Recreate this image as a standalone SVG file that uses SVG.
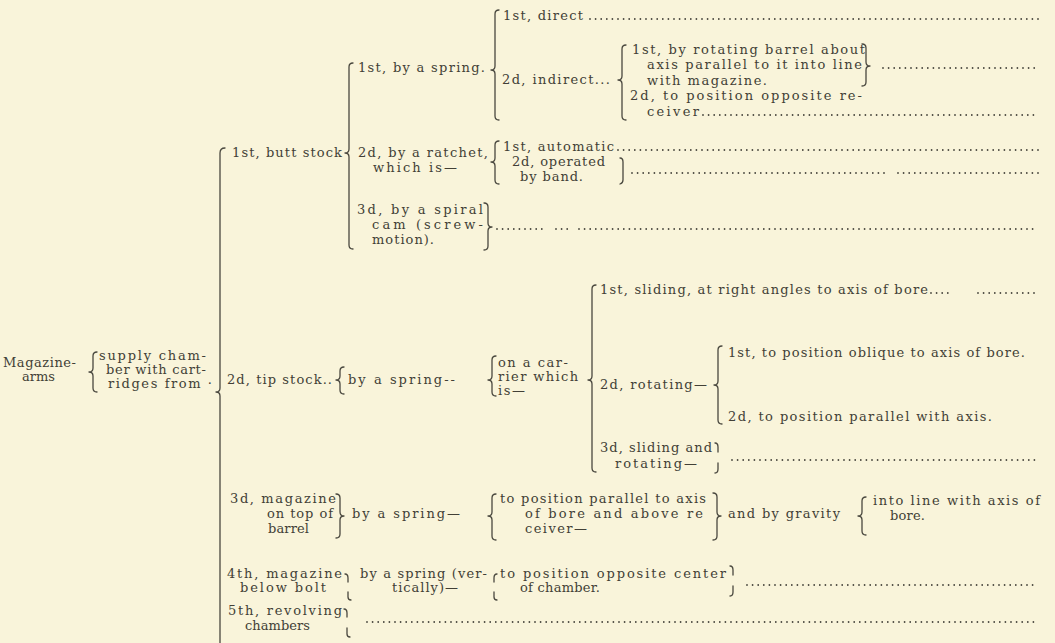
<svg xmlns="http://www.w3.org/2000/svg" width="1055" height="643" viewBox="0 0 1055 643">
<style>
.t{font-family:"DejaVu Serif","Liberation Serif",serif;font-size:13px;fill:#423f36}
.b{fill:none;stroke:#4a483f;stroke-width:1.3;stroke-linecap:round;stroke-linejoin:round}
.d{stroke:#4a483f;stroke-width:1.8;stroke-dasharray:0 5.6;stroke-linecap:round;fill:none}
</style>
<rect width="1055" height="643" fill="#f9f4da"/>
<g id="connectors">
<path class="b" d="M97 352 Q93 352 93 356 V368 Q93 372 89 372 Q93 372 93 376 V388 Q93 392 97 392"/>
<path class="b" d="M225 148 Q220 148 220 153 V388 Q220 392 216 392 Q220 392 220 396 V645"/>
<path class="b" d="M353 63 Q349 63 349 67 V149 Q349 153 345 153 Q349 153 349 157 V245 Q349 249 353 249"/>
<path class="b" d="M499 10 Q495 10 495 14 V66 Q495 70 491 70 Q495 70 495 74 V116 Q495 120 499 120"/>
<path class="b" d="M626 45 Q622 45 622 49 V76 Q622 80 618 80 Q622 80 622 84 V116 Q622 120 626 120"/>
<path class="b" d="M862 44 Q866 44 866 48 V62 Q866 66 870 66 Q866 66 866 70 V82 Q866 86 862 86"/>
<path class="b" d="M499 141 Q495 141 495 145 V158 Q495 162 491 162 Q495 162 495 166 V180 Q495 184 499 184"/>
<path class="b" d="M620 158 Q623 158 623 162 V180 Q623 183 620 184"/>
<path class="b" d="M484 203 Q488 203 488 207 V223 Q488 227 492 227 Q488 227 488 231 V246 Q488 250 484 250"/>
<path class="b" d="M344 367 Q340 367 340 371 V376 Q340 380 336 380 Q340 380 340 384 V390 Q340 394 344 394"/>
<path class="b" d="M496 356 Q492 356 492 360 V376 Q492 380 488 380 Q492 380 492 384 V392 Q492 396 496 396"/>
<path class="b" d="M596 285 Q592 285 592 289 V376 Q592 380 588 380 Q592 380 592 384 V468 Q592 472 596 472"/>
<path class="b" d="M722 346 Q718 346 718 350 V381 Q718 385 714 385 Q718 385 718 389 V420 Q718 424 722 424"/>
<path class="b" d="M715 443 Q718 443 718 447 V452 M718 463 V469 Q718 473 715 473"/>
<path class="b" d="M336 494 Q340 494 340 498 V512 Q340 516 344 516 Q340 516 340 520 V534 Q340 538 336 538"/>
<path class="b" d="M496 494 Q492 494 492 498 V512 Q492 516 488 516 Q492 516 492 520 V536 Q492 540 496 540"/>
<path class="b" d="M713 493 Q717 493 717 497 V512 Q717 516 721 516 Q717 516 717 520 V536 Q717 540 713 540"/>
<path class="b" d="M866 497 Q862 497 862 501 V512 Q862 516 858 516 Q862 516 862 520 V531 Q862 535 866 535"/>
<path class="b" d="M345 574 Q348 574 348 578 V582 M348 592 V597 Q348 600 351 600"/>
<path class="b" d="M497 574 Q494 574 494 578 V582 M494 592 V597 Q494 600 497 600"/>
<path class="b" d="M730 566 Q733 566 733 570 V575 M733 586 V592 Q733 596 730 596"/>
<path class="b" d="M344 609 Q347 609 347 613 V617 M347 628 V634 Q347 637 350 637"/>
<line class="d" x1="590" y1="19" x2="1040" y2="19"/>
<line class="d" x1="883" y1="68" x2="1038" y2="68"/>
<line class="d" x1="703" y1="115" x2="1038" y2="115"/>
<line class="d" x1="618" y1="150" x2="1038" y2="150"/>
<line class="d" x1="632" y1="173" x2="885" y2="173"/>
<line class="d" x1="898" y1="173" x2="1038" y2="173"/>
<line class="d" x1="497" y1="229" x2="545" y2="229"/>
<line class="d" x1="556" y1="229" x2="568" y2="229"/>
<line class="d" x1="579" y1="229" x2="1038" y2="229"/>
<line class="d" x1="931" y1="293" x2="953" y2="293"/>
<line class="d" x1="978" y1="293" x2="1039" y2="293"/>
<line class="d" x1="732" y1="460" x2="1037" y2="460"/>
<line class="d" x1="747" y1="585" x2="1037" y2="585"/>
<line class="d" x1="367" y1="622" x2="1037" y2="622"/>
</g>
<g id="n-root">
<text class="t" x="3" y="367" textLength="73">Magazine-</text>
<text class="t" x="22" y="381" textLength="33">arms</text>
</g>
<g id="n-supply">
<text class="t" x="99" y="360" textLength="107">supply cham-</text>
<text class="t" x="106" y="374" textLength="100">ber with cart-</text>
<text class="t" x="108" y="388" textLength="104">ridges from ·</text>
</g>
<g id="n-butt">
<text class="t" x="232" y="157" textLength="110">1st, butt stock</text>
</g>
<g id="n-spring1">
<text class="t" x="358" y="72" textLength="127">1st, by a spring.</text>
</g>
<g id="n-direct">
<text class="t" x="503" y="20" textLength="80">1st, direct</text>
</g>
<g id="n-indirect">
<text class="t" x="502" y="84" textLength="108">2d, indirect...</text>
</g>
<g id="n-rotbarrel">
<text class="t" x="632" y="54" textLength="233">1st, by rotating barrel about</text>
<text class="t" x="647" y="69" textLength="215">axis parallel to it into line</text>
<text class="t" x="647" y="85" textLength="120">with magazine.</text>
</g>
<g id="n-oppre">
<text class="t" x="630" y="100" textLength="232">2d, to position opposite re-</text>
<text class="t" x="647" y="116" textLength="52">ceiver</text>
</g>
<g id="n-ratchet">
<text class="t" x="358" y="157" textLength="130">2d, by a ratchet,</text>
<text class="t" x="373" y="172" textLength="84">which is—</text>
</g>
<g id="n-auto">
<text class="t" x="503" y="151" textLength="111">1st, automatic</text>
</g>
<g id="n-hand">
<text class="t" x="512" y="166" textLength="93">2d, operated</text>
<text class="t" x="520" y="181" textLength="63">by band.</text>
</g>
<g id="n-spiral">
<text class="t" x="357" y="214" textLength="126">3d, by a spiral</text>
<text class="t" x="372" y="229" textLength="111">cam (screw-</text>
<text class="t" x="372" y="244" textLength="62">motion).</text>
</g>
<g id="n-tip">
<text class="t" x="227" y="384" textLength="105">2d, tip stock..</text>
</g>
<g id="n-spring2">
<text class="t" x="348" y="384" textLength="107">by a spring--</text>
</g>
<g id="n-carrier">
<text class="t" x="498" y="367" textLength="70">on a car-</text>
<text class="t" x="498" y="381" textLength="80">rier which</text>
<text class="t" x="498" y="395" textLength="27">is—</text>
</g>
<g id="n-sliding">
<text class="t" x="600" y="294" textLength="328">1st, sliding, at right angles to axis of bore</text>
</g>
<g id="n-rotating">
<text class="t" x="600" y="389" textLength="107">2d, rotating—</text>
</g>
<g id="n-oblique">
<text class="t" x="728" y="357" textLength="297">1st, to position oblique to axis of bore.</text>
</g>
<g id="n-parallel">
<text class="t" x="728" y="421" textLength="264">2d, to position parallel with axis.</text>
</g>
<g id="n-slidrot">
<text class="t" x="600" y="452" textLength="112">3d, sliding and</text>
<text class="t" x="615" y="468" textLength="82">rotating—</text>
</g>
<g id="n-top">
<text class="t" x="230" y="503" textLength="106">3d,  magazine</text>
<text class="t" x="267" y="518" textLength="66">on top of</text>
<text class="t" x="268" y="533" textLength="41">barrel</text>
</g>
<g id="n-spring3">
<text class="t" x="352" y="518" textLength="108">by a spring—</text>
</g>
<g id="n-above">
<text class="t" x="500" y="503" textLength="206">to position parallel to axis</text>
<text class="t" x="525" y="518" textLength="178">of bore and above re</text>
<text class="t" x="525" y="533" textLength="62">ceiver—</text>
</g>
<g id="n-gravity">
<text class="t" x="728" y="518" textLength="112">and by gravity</text>
</g>
<g id="n-intoline">
<text class="t" x="873" y="505" textLength="167">into line with axis of</text>
<text class="t" x="890" y="520" textLength="35">bore.</text>
</g>
<g id="n-below">
<text class="t" x="227" y="578" textLength="115">4th, magazine</text>
<text class="t" x="240" y="592" textLength="86">below bolt</text>
</g>
<g id="n-vert">
<text class="t" x="360" y="578" textLength="127">by a spring (ver-</text>
<text class="t" x="392" y="592" textLength="66">tically)—</text>
</g>
<g id="n-center">
<text class="t" x="500" y="578" textLength="226">to position opposite center</text>
<text class="t" x="520" y="592" textLength="80">of chamber.</text>
</g>
<g id="n-revolving">
<text class="t" x="228" y="615" textLength="114">5th, revolving</text>
<text class="t" x="245" y="630" textLength="65">chambers</text>
</g>
</svg>
